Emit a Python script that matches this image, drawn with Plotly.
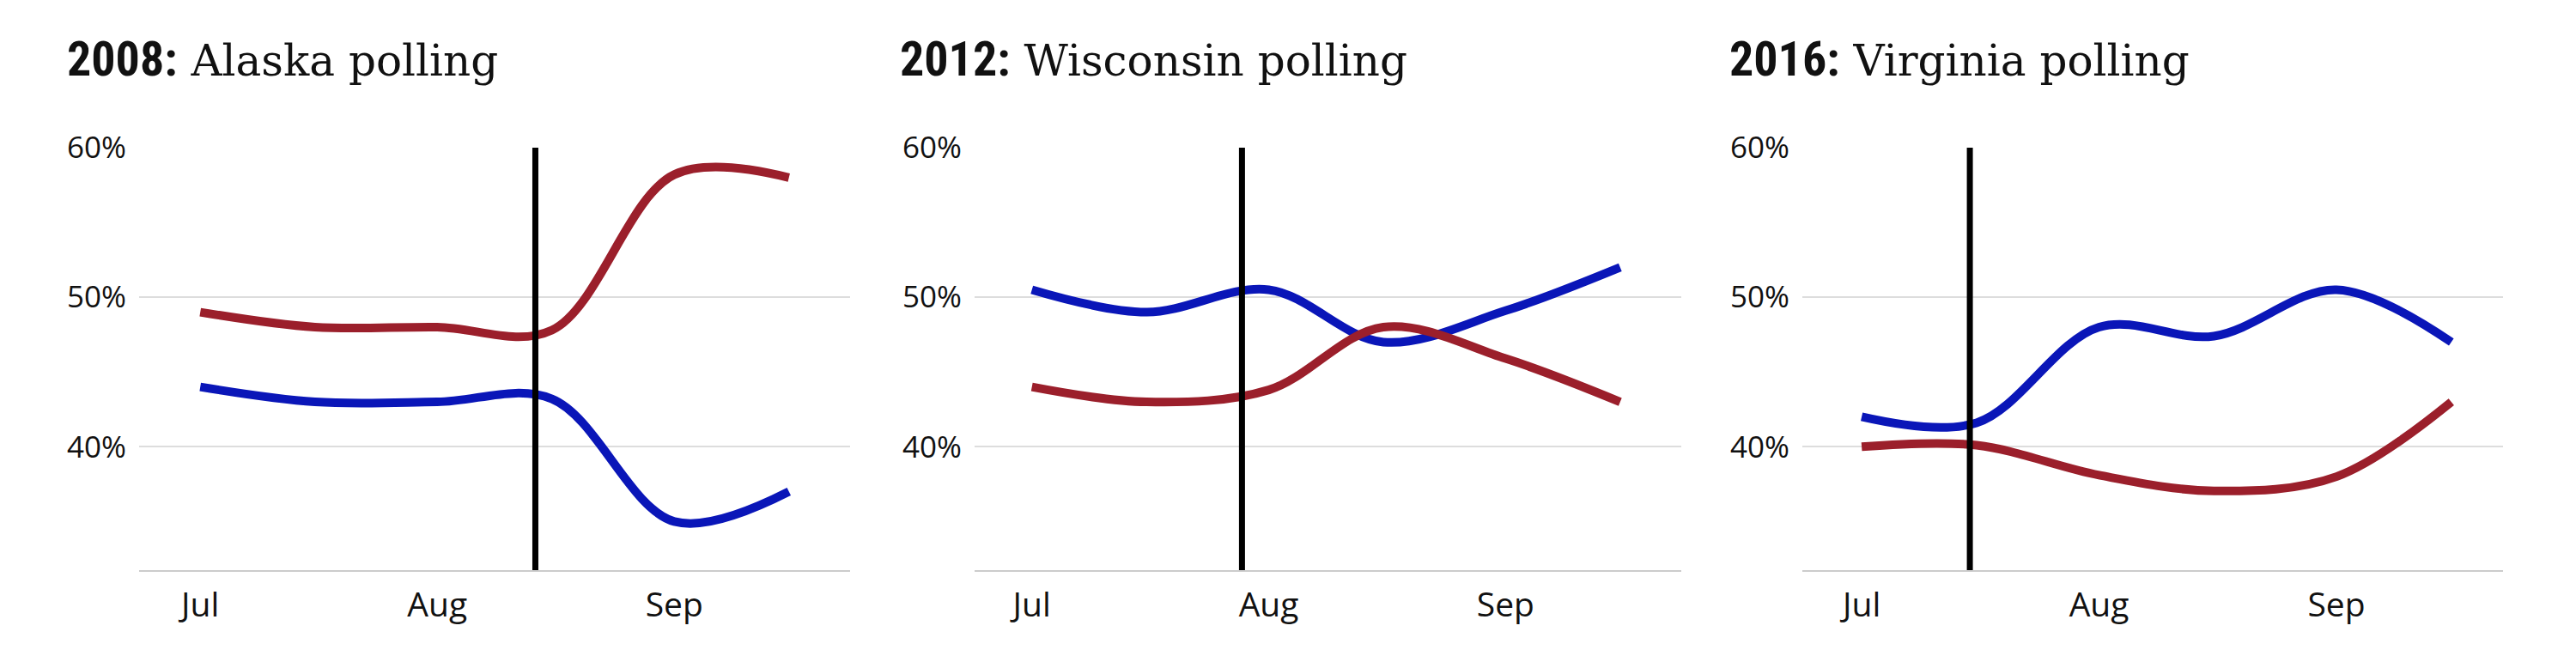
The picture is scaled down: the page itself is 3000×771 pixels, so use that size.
import plotly.graph_objects as go

# ---------------- data ----------------
years = ["2008", "2012", "2016"]
states = ["Alaska", "Wisconsin", "Virginia"]
poll_days = ["07-01", "07-16", "08-01", "08-16", "09-01", "09-16"]

dem_2008 = [44.0, 43.0, 43.0, 43.2, 35.0, 37.0]
rep_2008 = [49.0, 48.0, 48.0, 47.8, 58.2, 58.0]
dem_2012 = [50.5, 49.0, 50.5, 47.0, 49.1, 52.0]
rep_2012 = [44.0, 43.0, 43.8, 48.0, 45.9, 43.0]
dem_2016 = [42.0, 41.6, 48.0, 47.4, 50.5, 47.0]
rep_2016 = [40.0, 40.1, 38.1, 37.05, 38.0, 43.0]

event_dates = ["2008-08-13 20:00", "2012-07-28 12:00", "2016-07-15 03:00"]

month_ticks = ["07-01", "08-01", "09-01"]
month_labels = ["Jul", "Aug", "Sep"]
y_ticks = [40, 50, 60]
y_labels = ["40%", "50%", "60%"]

dem_series = [dem_2008, dem_2012, dem_2016]
rep_series = [rep_2008, rep_2012, rep_2016]

# ---------------- style ----------------
W, H = 3000, 771
DEM = "#0a16b8"
REP = "#9b1f2b"
panel_px = [(162, 990), (1135, 1958), (2099, 2915)]
x_ranges = [("06-23", "09-24"), ("06-23 12:00", "09-24"), ("06-23 06:00", "09-22 18:00")]
title_x = [76, 1046, 2012]
y_top_px, y_bot_px = 172, 664
ydom = [1 - y_bot_px / H, 1 - y_top_px / H]

fig = go.Figure()
for i in range(3):
    yr = years[i]
    xs = [f"{yr}-{d}" for d in poll_days]
    xa = "x" if i == 0 else f"x{i+1}"
    ya = "y" if i == 0 else f"y{i+1}"
    fig.add_trace(go.Scatter(x=xs, y=dem_series[i], mode="lines", xaxis=xa, yaxis=ya,
                             line=dict(color=DEM, width=10, shape="spline", smoothing=1.0),
                             hoverinfo="skip", showlegend=False))
    fig.add_trace(go.Scatter(x=xs, y=rep_series[i], mode="lines", xaxis=xa, yaxis=ya,
                             line=dict(color=REP, width=10, shape="spline", smoothing=1.0),
                             hoverinfo="skip", showlegend=False))
    l, r = panel_px[i]
    key = "" if i == 0 else str(i + 1)
    fig.update_layout(**{
        f"xaxis{key}": dict(
            domain=[l / W, r / W], type="date", anchor=ya, automargin=False,
            range=[f"{yr}-{x_ranges[i][0]}", f"{yr}-{x_ranges[i][1]}"],
            tickvals=[f"{yr}-{m}" for m in month_ticks], ticktext=month_labels,
            showgrid=False, zeroline=False, showline=True, linecolor="#cccccc", linewidth=2,
            ticks="", tickfont=dict(family="Open Sans", size=39, color="#111111"),
            ticklabelstandoff=5, fixedrange=True,
        ),
        f"yaxis{key}": dict(
            domain=ydom, anchor=xa, range=[31.75, 60], automargin=False,
            tickvals=y_ticks, ticktext=y_labels,
            showgrid=True, gridcolor="#dddddd", gridwidth=1.5, zeroline=False, showline=False,
            ticks="", tickfont=dict(family="Open Sans", size=35, color="#111111"),
            ticklabelstandoff=14, fixedrange=True,
        ),
    })
    fig.add_shape(type="line", xref=xa, yref=f"{ya} domain",
                  x0=event_dates[i], x1=event_dates[i], y0=0, y1=1,
                  line=dict(color="#000000", width=7), layer="above")
    fig.add_annotation(
        xref="paper", yref="paper", x=title_x[i] / W, y=1 - 69 / H,
        xanchor="left", yanchor="middle", showarrow=False,
        text=f"<span style='font-family:\"Roboto Condensed\",Roboto;font-weight:bold;font-size:56px'>{yr}:</span> {states[i]} polling",
        font=dict(family="DejaVu Serif", size=50, color="#111111"),
    )

fig.update_layout(width=W, height=H, margin=dict(l=0, r=0, t=0, b=0),
                  paper_bgcolor="white", plot_bgcolor="white", template="none")
fig.write_html("out.html")
